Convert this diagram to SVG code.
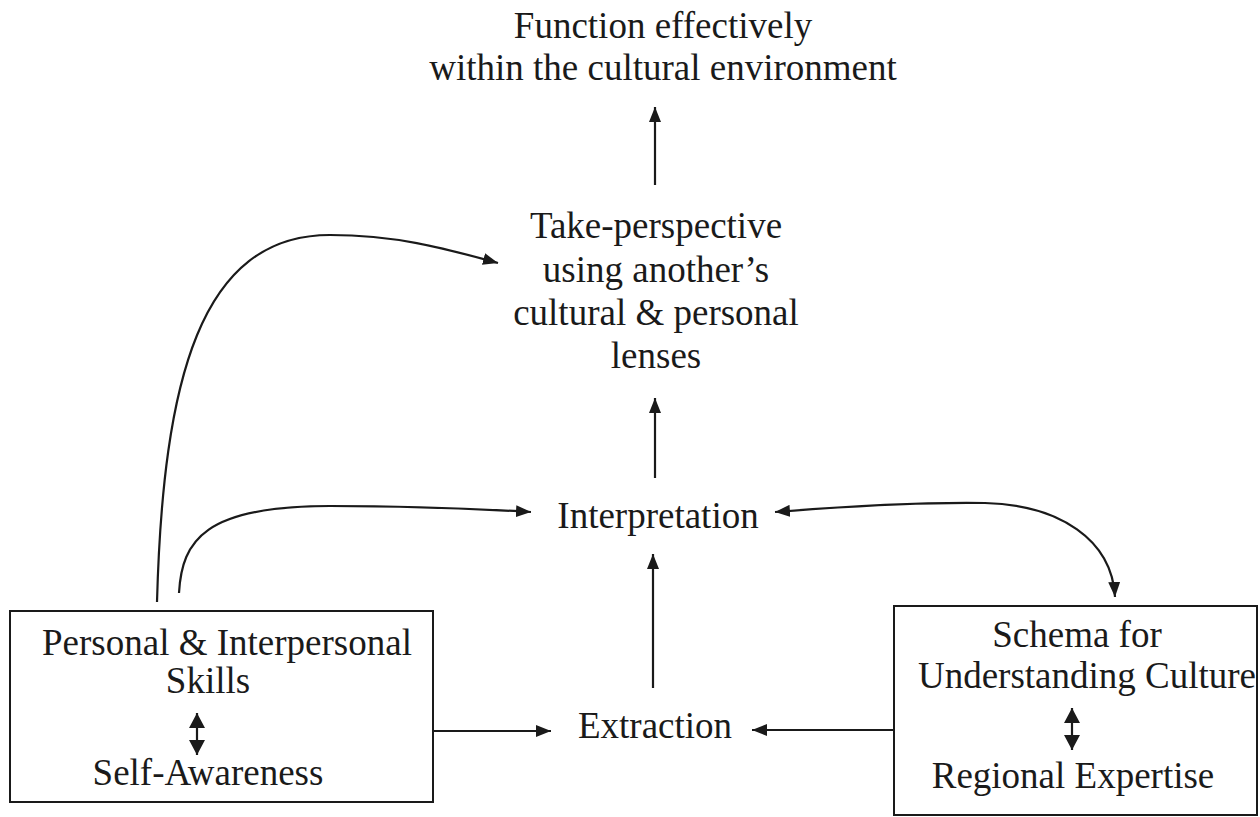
<svg xmlns="http://www.w3.org/2000/svg" width="1260" height="817" viewBox="0 0 1260 817">
<defs>
<style>
text{font-family:"Liberation Serif","Times New Roman",serif;font-size:37px;fill:#1a1a1a;text-anchor:middle}
.box{fill:none;stroke:#1a1a1a;stroke-width:2}
.c{fill:none;stroke:#1a1a1a;stroke-width:2.2}
</style>
<marker id="ah" viewBox="0 0 15 12" refX="15" refY="6" markerWidth="15" markerHeight="12" orient="auto-start-reverse" markerUnits="userSpaceOnUse"><path d="M0,0 L15,6 L0,12 z" fill="#1a1a1a"/></marker>
<marker id="sh" viewBox="0 0 15 16" refX="15" refY="8" markerWidth="15" markerHeight="16" orient="auto-start-reverse" markerUnits="userSpaceOnUse"><path d="M0,0 L15,8 L0,16 z" fill="#1a1a1a"/></marker>
</defs>
<rect width="1260" height="817" fill="#fff"/>
<g id="goal">
<text x="663" y="38">Function effectively</text>
<text x="663" y="80">within the cultural environment</text>
</g>
<g id="perspective">
<text x="656" y="238">Take-perspective</text>
<text x="656" y="282">using another’s</text>
<text x="656" y="325">cultural &amp; personal</text>
<text x="656" y="368">lenses</text>
</g>
<g id="interpretation">
<text x="658" y="528">Interpretation</text>
</g>
<g id="extraction">
<text x="655" y="738">Extraction</text>
</g>
<g id="personal">
<rect class="box" x="10" y="611" width="423" height="191"/>
<text x="227" y="655">Personal &amp; Interpersonal</text>
<text x="208" y="693">Skills</text>
<line class="c" x1="197" y1="713" x2="197" y2="755" marker-start="url(#sh)" marker-end="url(#sh)"/>
<text x="208" y="785">Self-Awareness</text>
</g>
<g id="schema">
<rect class="box" x="894" y="606" width="363" height="209"/>
<text x="1077" y="647">Schema for</text>
<text x="1087" y="688">Understanding Culture</text>
<line class="c" x1="1072" y1="708" x2="1072" y2="750" marker-start="url(#sh)" marker-end="url(#sh)"/>
<text x="1073" y="788">Regional Expertise</text>
</g>
<g id="connectors">
<line class="c" x1="655" y1="185" x2="655" y2="107" marker-end="url(#ah)"/>
<line class="c" x1="655" y1="478" x2="655" y2="398" marker-end="url(#ah)"/>
<line class="c" x1="653" y1="688" x2="653" y2="554" marker-end="url(#ah)"/>
<line class="c" x1="433" y1="731" x2="551" y2="731" marker-end="url(#ah)"/>
<line class="c" x1="893" y1="730" x2="752" y2="730" marker-end="url(#ah)"/>
<path class="c" d="M157,602 C163,380 200,235 330,235 C400,235 450,250 498,263" marker-end="url(#ah)"/>
<path class="c" d="M179,593 C182,540 205,506 330,506 C420,506 480,509 531,512" marker-end="url(#ah)"/>
<path class="c" d="M1115,597 C1112,540 1060,505 985,503 C920,502 850,506 775,512" marker-start="url(#ah)" marker-end="url(#ah)"/>
</g>
</svg>
